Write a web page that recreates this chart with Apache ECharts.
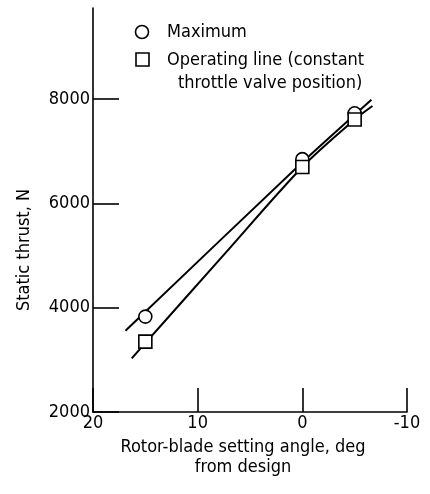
<!DOCTYPE html>
<html>
<head>
<meta charset="utf-8">
<script src="https://cdn.jsdelivr.net/npm/echarts@6/dist/echarts.min.js"></script>
<style>
  html, body { margin: 0; padding: 0; background: #fff; }
  #chart { width: 430px; height: 494px; }
</style>
</head>
<body>
<div id="chart"></div>
<script>
// Rotor-blade setting angle (deg from design) and static thrust (N)
const angleTicks = [20, 10, 0, -10];
const thrustTicks = [2000, 4000, 6000, 8000];

// Measured points
const maxAngle = [15, 0, -5];
const maxThrust = [3830, 6850, 7730];
const opAngle = [15, 0, -5];
const opThrust = [3350, 6700, 7610];

// Faired curves through the measurements
const maxFairAngle = [16.9, 0, -6.6];
const maxFairThrust = [3560, 6790, 7990];
const opFairAngle = [16.3, 7.7, 0, -5, -6.7];
const opFairThrust = [3030, 4970, 6700, 7610, 7870];

const FONT = '"Liberation Sans Narrow", "DejaVu Sans Condensed", "Noto Sans", sans-serif';
const zip = (xs, ys) => xs.map((x, i) => [x, ys[i]]);

const chart = echarts.init(document.getElementById('chart'), null, { renderer: 'canvas' });

chart.setOption({
  animation: false,
  backgroundColor: '#fff',
  grid: { left: 93, right: 23, top: 8, bottom: 82 },
  xAxis: {
    type: 'value',
    inverse: true,
    min: -10,
    max: 20,
    interval: 10,
    splitLine: { show: false },
    axisLine: { onZero: false, lineStyle: { color: '#000', width: 1.6 } },
    axisTick: { inside: true, length: 24, lineStyle: { color: '#000', width: 1.6 }, customValues: angleTicks },
    axisLabel: { color: '#000', fontFamily: FONT, fontSize: 18, margin: 2, customValues: angleTicks },
    name: 'Rotor-blade setting angle, deg\nfrom design',
    nameLocation: 'middle',
    nameGap: 24,
    nameTextStyle: { color: '#000', fontFamily: FONT, fontSize: 18, lineHeight: 20, padding: [0, 14, 0, 0] }
  },
  yAxis: {
    type: 'value',
    min: 2000,
    max: 9750,
    interval: 2000,
    splitLine: { show: false },
    axisLine: { onZero: false, lineStyle: { color: '#000', width: 1.6 } },
    axisTick: { inside: true, length: 26, lineStyle: { color: '#000', width: 1.6 }, customValues: thrustTicks },
    axisLabel: { color: '#000', fontFamily: FONT, fontSize: 18, margin: 3, customValues: thrustTicks,
      formatter: (v) => String(v) },
    name: 'Static thrust, N',
    nameLocation: 'middle',
    nameGap: 60,
    nameTextStyle: { color: '#000', fontFamily: FONT, fontSize: 18, padding: [0, 80, 0, 0] }
  },
  graphic: [
    { type: 'circle', shape: { cx: 142, cy: 32, r: 6.5 }, style: { fill: '#fff', stroke: '#000', lineWidth: 1.6 } },
    { type: 'text', x: 167, y: 32, style: { text: 'Maximum', fill: '#000', font: '18px ' + FONT, textVerticalAlign: 'middle' } },
    { type: 'rect', shape: { x: 136, y: 53, width: 13, height: 13 }, style: { fill: '#fff', stroke: '#000', lineWidth: 1.6 } },
    { type: 'text', x: 167, y: 60, style: { text: 'Operating line (constant', fill: '#000', font: '18px ' + FONT, textVerticalAlign: 'middle' } },
    { type: 'text', x: 178, y: 83, style: { text: 'throttle valve position)', fill: '#000', font: '18px ' + FONT, textVerticalAlign: 'middle' } }
  ],
  series: [
    {
      name: 'Maximum fairing',
      type: 'line',
      data: zip(maxFairAngle, maxFairThrust),
      smooth: 0.2,
      showSymbol: false,
      lineStyle: { color: '#000', width: 2 },
      z: 2
    },
    {
      name: 'Operating line fairing',
      type: 'line',
      data: zip(opFairAngle, opFairThrust),
      smooth: 0.3,
      showSymbol: false,
      lineStyle: { color: '#000', width: 2 },
      z: 2
    },
    {
      name: 'Maximum',
      type: 'scatter',
      data: zip(maxAngle, maxThrust),
      symbol: 'circle',
      symbolSize: 13,
      itemStyle: { color: '#fff', borderColor: '#000', borderWidth: 1.6, opacity: 1 },
      z: 3
    },
    {
      name: 'Operating line (constant throttle valve position)',
      type: 'scatter',
      data: zip(opAngle, opThrust),
      symbol: 'rect',
      symbolSize: 13,
      itemStyle: { color: '#fff', borderColor: '#000', borderWidth: 1.6, opacity: 1 },
      z: 4
    }
  ]
});
</script>
</body>
</html>
